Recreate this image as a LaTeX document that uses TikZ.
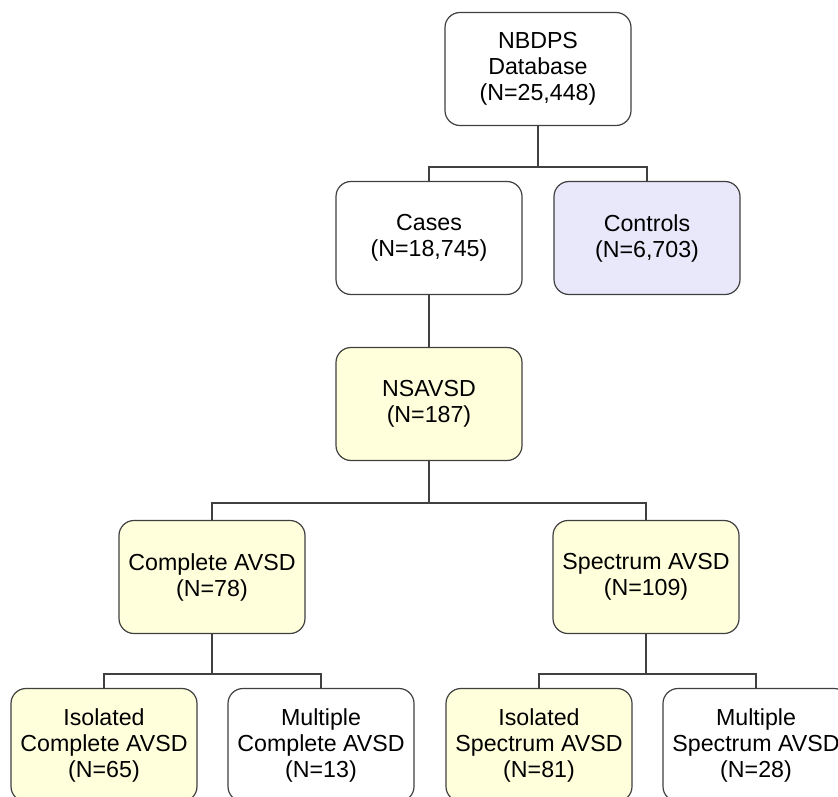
\documentclass[tikz,border=0pt]{standalone}
\usepackage{fontspec}
\setmainfont{Liberation Sans}
\usepackage{xcolor}
\usetikzlibrary{calc}
\definecolor{edge}{HTML}{404040}
\definecolor{pale}{HTML}{FFFFDC}
\definecolor{lilac}{HTML}{E8E8FA}
\tikzset{
  box/.style={draw=edge, line width=1.2pt, rounded corners=15pt, fill=white,
    minimum width=186pt, minimum height=113pt, align=center,
    font=\fontsize{23.2}{26}\selectfont, inner sep=2pt},
  hit/.style={box, fill=pale},
  ctl/.style={box, fill=lilac},
  link/.style={draw=edge, line width=1.2pt},
}

\begin{document}
\begin{tikzpicture}[x=1pt, y=-1pt]
  \clip (0,0) rectangle (838,797);
  \fill[white] (0,0) rectangle (838,797);
  % top of the tree
  \node[box] (db) at (538,69) {NBDPS\\Database\\(N=25,448)};
  \node[box] (cases) at (429,238) {Cases\\(N=18,745)};
  \node[ctl] (ctrl) at (647,238) {Controls\\(N=6,703)};
  \node[hit] (nsavsd) at (429,404) {NSAVSD\\(N=187)};
  % subtypes
  \node[hit] (cavsd) at (212,577) {Complete AVSD\\(N=78)};
  \node[hit] (savsd) at (646,577) {Spectrum AVSD\\(N=109)};
  \node[hit] (isoc) at (104,745) {Isolated\\Complete AVSD\\(N=65)};
  \node[box] (mulc) at (321,745) {Multiple\\Complete AVSD\\(N=13)};
  \node[hit] (isos) at (539,745) {Isolated\\Spectrum AVSD\\(N=81)};
  \node[box] (muls) at (756,745) {Multiple\\Spectrum AVSD\\(N=28)};
  % bars
  \coordinate (b1) at (538,167);
  \coordinate (b2) at (429,503);
  \coordinate (b3) at (212,674);
  \coordinate (b4) at (646,674);
  \draw[link] (db.south) -- (b1) -| (cases.north);
  \draw[link] (b1) -| (ctrl.north);
  \draw[link] (cases.south) -- (nsavsd.north);
  \draw[link] (nsavsd.south) -- (b2) -| (cavsd.north);
  \draw[link] (b2) -| (savsd.north);
  \draw[link] (cavsd.south) -- (b3) -| (isoc.north);
  \draw[link] (b3) -| (mulc.north);
  \draw[link] (savsd.south) -- (b4) -| (isos.north);
  \draw[link] (b4) -| (muls.north);
\end{tikzpicture}
\end{document}
